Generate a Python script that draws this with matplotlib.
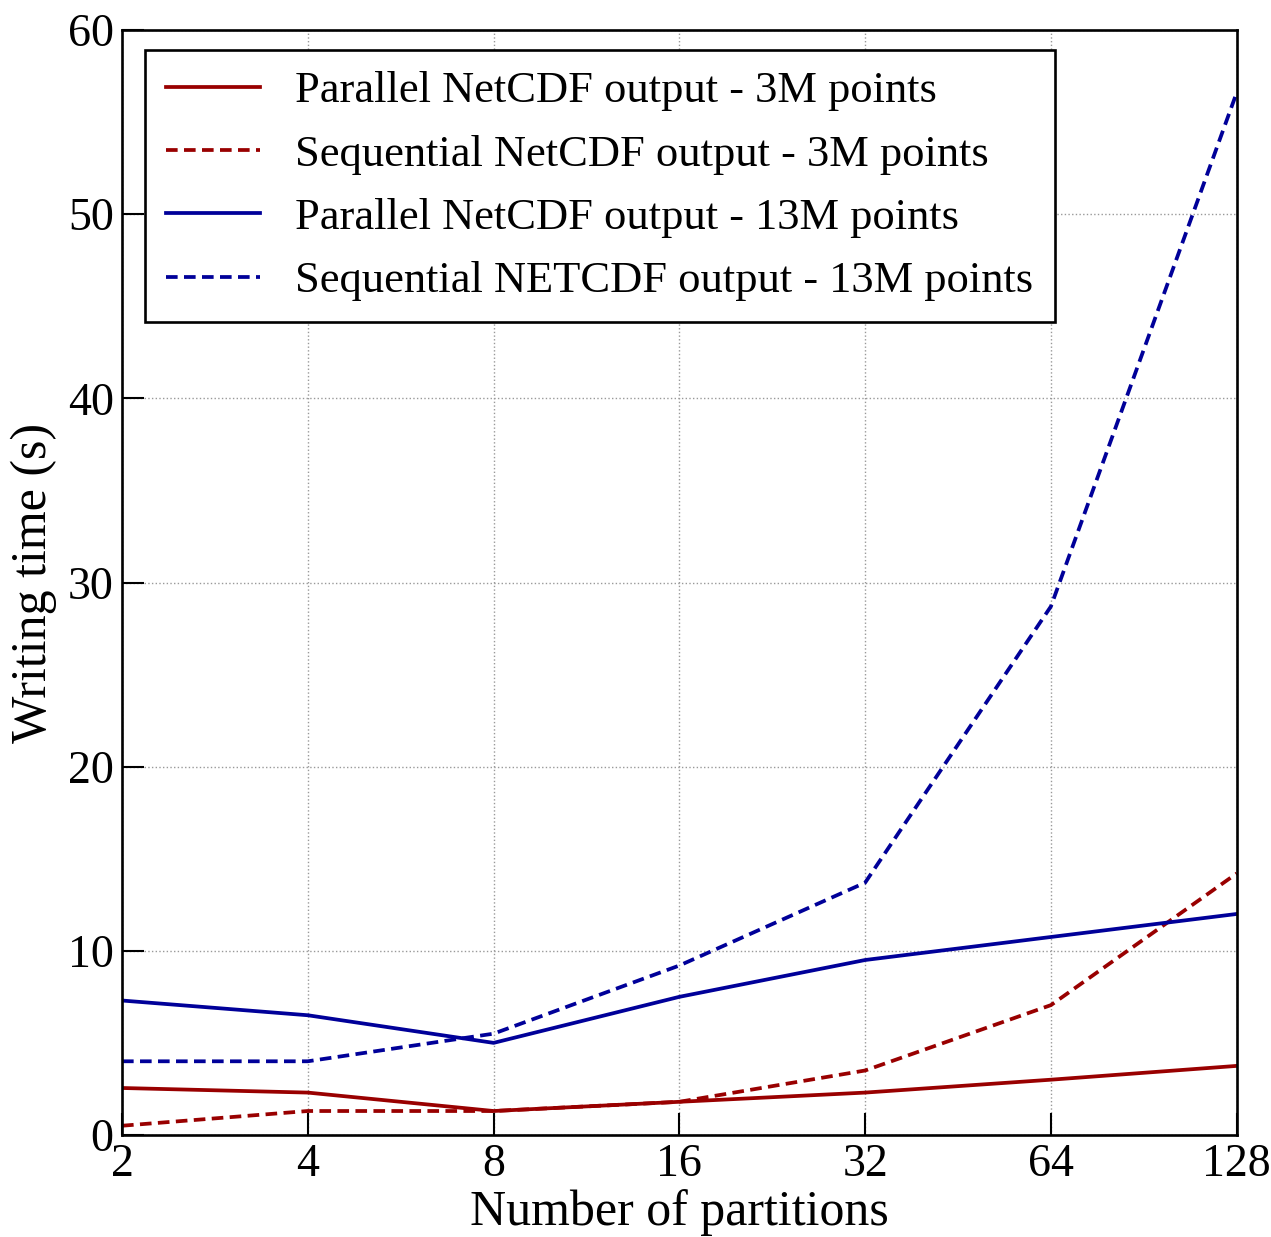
import numpy as np
import matplotlib
matplotlib.use('Agg')
import matplotlib.pyplot as plt
from matplotlib.ticker import FixedLocator, FixedFormatter, NullLocator

partitions = [2, 4, 8, 16, 32, 64, 128]
par_3m = [2.55, 2.3, 1.3, 1.8, 2.3, 3.0, 3.75]
seq_3m = [0.5, 1.3, 1.3, 1.8, 3.5, 7.05, 14.2]
par_13m = [7.3, 6.5, 5.0, 7.5, 9.5, 10.75, 12.0]
seq_13m = [4.0, 4.0, 5.5, 9.2, 13.7, 28.7, 56.6]
labels = ['Parallel NetCDF output - 3M points',
          'Sequential NetCDF output - 3M points',
          'Parallel NetCDF output - 13M points',
          'Sequential NETCDF output - 13M points']

plt.rcParams['font.family'] = ['Liberation Serif', 'DejaVu Serif']

fig = plt.figure(figsize=(12.71, 12.37), dpi=100)
ax = fig.add_axes([0.096, 0.0825, 0.877, 0.8932])

red, blue = '#990000', '#000099'
lw = 2.7
dash = (0, (3.1, 1.7))
ax.plot(partitions, par_3m, color=red, lw=lw, label=labels[0])
ax.plot(partitions, seq_3m, color=red, lw=lw, ls=dash, label=labels[1])
ax.plot(partitions, par_13m, color=blue, lw=lw, label=labels[2])
ax.plot(partitions, seq_13m, color=blue, lw=lw, ls=dash, label=labels[3])

ax.set_xscale('log', base=2)
ax.set_xlim(2, 128)
ax.set_ylim(0, 60)
ax.xaxis.set_major_locator(FixedLocator(partitions))
ax.xaxis.set_major_formatter(FixedFormatter([str(p) for p in partitions]))
ax.xaxis.set_minor_locator(NullLocator())
ax.set_yticks(np.arange(0, 61, 10))

ax.tick_params(direction='in', length=16, width=1.5, labelsize=33, pad=6)
ax.grid(True, color='#999999', ls=':', lw=1.0)
for s in ax.spines.values():
    s.set_linewidth(1.9)

ax.set_xlabel('Number of partitions', fontsize=36, labelpad=2)
ax.set_ylabel('Writing time (s)', fontsize=36, labelpad=8)

leg = ax.legend(loc='upper left', bbox_to_anchor=(0.0206, 0.982), borderaxespad=0,
                fontsize=32, frameon=True, fancybox=False, edgecolor='black',
                framealpha=1, handlelength=2.1, handletextpad=0.8,
                borderpad=0.48, labelspacing=0.52)
leg.get_frame().set_linewidth(1.9)

fig.savefig('out.png', dpi=100)
